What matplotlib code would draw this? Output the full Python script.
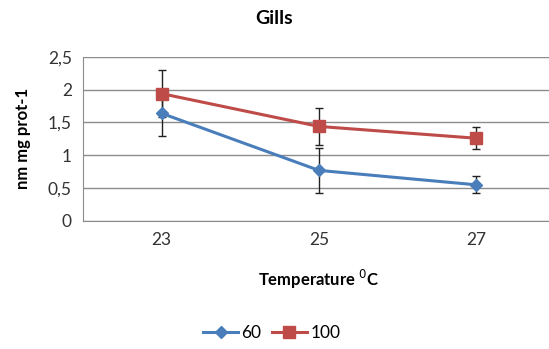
import matplotlib.pyplot as plt
from matplotlib.lines import Line2D
import numpy as np

temps = ["23", "25", "27"]
s60 = [1.64, 0.77, 0.55]
s60_err = [0.34, 0.34, 0.13]
s100 = [1.94, 1.44, 1.26]
s100_err = [0.36, 0.28, 0.17]

plt.rcParams['font.family'] = ['Lato', 'DejaVu Sans']

fig = plt.figure(figsize=(5.49, 3.49), dpi=100)
ax = fig.add_axes([0.151, 0.367, 0.86, 0.470])
x = np.arange(len(temps))

ax.errorbar(x, s60, yerr=s60_err, color='#4A7EBB', marker='D', markersize=6,
            linewidth=2.2, ecolor='#222222', elinewidth=1, capsize=3, zorder=3)
ax.errorbar(x, s100, yerr=s100_err, color='#BE4B48', marker='s', markersize=9,
            linewidth=2.2, ecolor='#222222', elinewidth=1, capsize=3, zorder=3)

ax.set_xlim(-0.5, 2.5)
ax.set_ylim(0, 2.5)
ax.set_yticks([0, 0.5, 1, 1.5, 2, 2.5])
ax.set_yticklabels(['0', '0,5', '1', '1,5', '2', '2,5'])
ax.set_xticks(x)
ax.set_xticklabels(temps)
ax.tick_params(length=0, labelsize=12.5, colors='#333333', pad=8)
ax.grid(axis='y', color='#8c8c8c', linewidth=1)
ax.set_axisbelow(True)
for s in ['top', 'right']:
    ax.spines[s].set_visible(False)
ax.spines['left'].set_color('#8c8c8c')
ax.spines['bottom'].set_color('#8c8c8c')

ax.set_xlabel('Temperature $^{0}$C', fontsize=12, fontweight='bold', labelpad=14)
ax.set_ylabel('nm mg prot-1', fontsize=12, fontweight='bold', labelpad=12)
fig.text(0.5, 0.93, 'Gills', ha='center', fontsize=14, fontweight='bold')

h = [Line2D([], [], color='#4A7EBB', marker='D', markersize=6, linewidth=2.2),
     Line2D([], [], color='#BE4B48', marker='s', markersize=9, linewidth=2.2)]
fig.legend(h, ['60', '100'], loc='center', bbox_to_anchor=(0.495, 0.045), ncol=2, frameon=False,
           fontsize=12.5, handlelength=2, columnspacing=0.6, handletextpad=0.2)

fig.savefig('out.png', dpi=100)
